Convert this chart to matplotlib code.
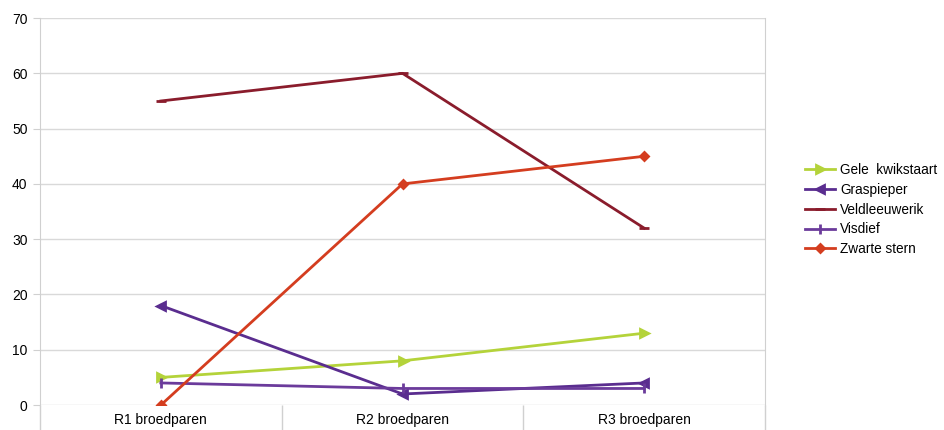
import matplotlib.pyplot as plt
from matplotlib.ticker import MultipleLocator, FixedLocator

plt.rcParams['font.family'] = ['Liberation Sans', 'DejaVu Sans']

categorieen = ["R1 broedparen", "R2 broedparen", "R3 broedparen"]
gele_kwikstaart = [5, 8, 13]
graspieper = [18, 2, 4]
veldleeuwerik = [55, 60, 32]
visdief = [4, 3, 3]
zwarte_stern = [0, 40, 45]

soorten = [
    ("Gele  kwikstaart", gele_kwikstaart, "#b4d33a", ">", 5.5),
    ("Graspieper", graspieper, "#5a2d8f", "<", 5.5),
    ("Veldleeuwerik", veldleeuwerik, "#8a1c2c", "_", 7),
    ("Visdief", visdief, "#6b3b9b", "|", 7),
    ("Zwarte stern", zwarte_stern, "#d43d1f", "D", 4.5),
]

fig = plt.figure(figsize=(9.44, 4.30), dpi=100)
ax = fig.add_axes([0.0424, 0.058, 0.768, 0.9])

x = range(len(categorieen))
for naam, waarden, kleur, marker, ms in soorten:
    ax.plot(x, waarden, color=kleur, lw=2.0, marker=marker, ms=ms,
            mew=2.0, label=naam)

ax.set_xlim(-0.5, 2.5)
ax.set_ylim(0, 70)
ax.yaxis.set_major_locator(MultipleLocator(10))
ax.grid(axis='y', color='#d9d9d9', lw=1.0)
ax.set_axisbelow(True)

ax.set_xticks(list(x))
ax.set_xticklabels(categorieen, fontsize=10)
ax.tick_params(axis='x', which='major', length=0, pad=6)
ax.xaxis.set_minor_locator(FixedLocator([-0.5, 0.5, 1.5, 2.5]))
ax.tick_params(axis='x', which='minor', length=20, color='#d0d0d0', width=1.0)
ax.tick_params(axis='y', length=5, color='#d0d0d0', labelsize=10, pad=4)

for kant in ['top', 'bottom']:
    ax.spines[kant].set_visible(False)
for kant in ['left', 'right']:
    ax.spines[kant].set_color('#d0d0d0')

ax.legend(loc='center left', bbox_to_anchor=(1.038, 0.505), frameon=False,
          fontsize=9.8, handlelength=2.2, labelspacing=0.42, handletextpad=0.4)

fig.savefig('out.png', dpi=100)
